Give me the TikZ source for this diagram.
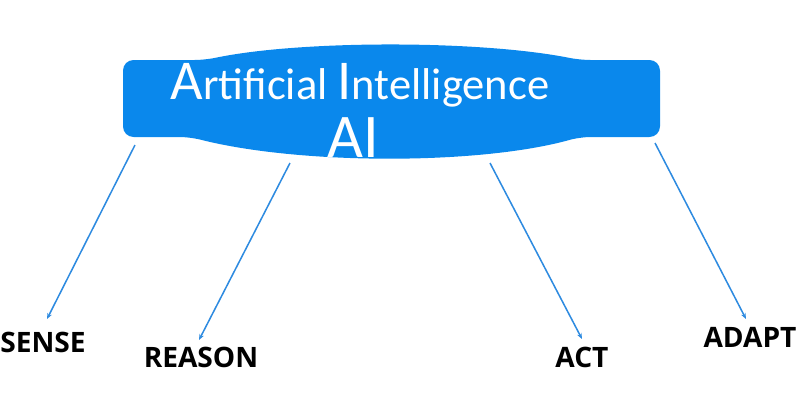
\documentclass[tikz,border=0pt]{standalone}
\usepackage{fontspec}
\usetikzlibrary{arrows.meta}
\setmainfont{Carlito}
\newfontfamily\lblfont{Open Sans}
\definecolor{aiblue}{HTML}{0A88EC}
\definecolor{arblue}{HTML}{2E8BE0}
\begin{document}
\begin{tikzpicture}[x=0.03cm,y=-0.03cm,
  lbl/.style={font=\lblfont\bfseries\fontsize{24}{26}\selectfont,text=black,inner sep=0pt},
  conn/.style={draw=arblue,line width=1.3pt,-{Stealth[length=5pt,width=4pt]}}]
\useasboundingbox (0,0) rectangle (800,411);
\fill[aiblue,rounded corners=9pt] (123,60) -- (205,60) .. controls (300,40) and (480,40) .. (580,60) -- (660,60) -- (660,137) -- (580,137) .. controls (480,165) and (300,165) .. (190,137) -- (123,137) -- cycle;
\node[anchor=base,text=white,inner sep=0pt,font=\fontsize{38}{40}\selectfont] (t1) at (360,99) {{\fontsize{48}{50}\selectfont A}rtificial {\fontsize{48}{50}\selectfont I}ntelligence};
\node[anchor=base,text=white,inner sep=0pt,font=\fontsize{53}{55}\selectfont] (t2) at (353,157) {AI};
\coordinate (s1) at (135,145);
\coordinate (s2) at (290,163);
\coordinate (s3) at (490,163);
\coordinate (s4) at (655,143);
\node[lbl] (sense) at (43,342) {SENSE};
\node[lbl] (reason) at (201,357) {REASON};
\node[lbl] (act) at (582,357) {ACT};
\node[lbl] (adapt) at (750,337) {ADAPT};
\coordinate (e1) at (47,319);
\coordinate (e2) at (199,340);
\coordinate (e3) at (582,339);
\coordinate (e4) at (746,319);
\draw[conn] (s1) -- (e1);
\draw[conn] (s2) -- (e2);
\draw[conn] (s3) -- (e3);
\draw[conn] (s4) -- (e4);
\end{tikzpicture}
\end{document}
